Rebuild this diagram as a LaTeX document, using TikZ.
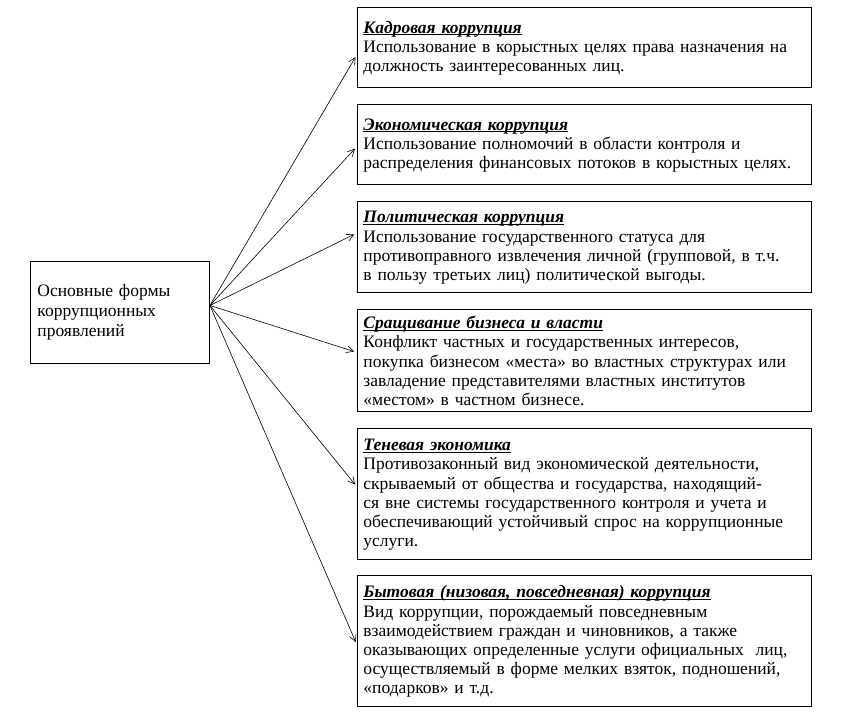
\documentclass[tikz,border=0pt]{standalone}
\usepackage{fontspec}
\setmainfont{Liberation Serif}
\usetikzlibrary{arrows.meta}
\tikzset{form/.style={draw,line width=0.9pt,anchor=north west,text width=442pt,inner xsep=6pt,inner ysep=0pt,align=left,font=\fontsize{17.5}{19.2}\selectfont}}
\newcommand\formtitle[1]{\underline{\smash{\textbf{\textit{#1}}}}\strut}
\newcommand\formbox[5]{\node(#1)[form,minimum height=#3pt] at (357,#2) {\formtitle{#4}\\#5};}

\begin{document}
\begin{tikzpicture}[x=1pt,y=-1pt]
    \useasboundingbox (0,0) rectangle (850,726);
    \node(main)[form,text width=165pt,inner xsep=7pt,minimum height=102pt,font=\fontsize{17.5}{20}\selectfont] at (30,261) {Основные формы\\коррупционных\\проявлений};
    \formbox{kadr}{7}{80}{Кадровая коррупция}{Использование в корыстных целях права назначения на\\должность заинтересованных лиц.}
    \formbox{ekon}{104}{80}{Экономическая коррупция}{Использование полномочий в области контроля и\\распределения финансовых потоков в корыстных целях.}
    \formbox{polit}{201}{91}{Политическая коррупция}{Использование государственного статуса для\\противоправного извлечения личной (групповой, в т.ч.\\в пользу третьих лиц) политической выгоды.}
    \formbox{srashch}{309}{102}{Сращивание бизнеса и власти}{Конфликт частных и государственных интересов,\\покупка бизнесом «места» во властных структурах или\\завладение представителями властных институтов\\«местом» в частном бизнесе.}
    \formbox{ten}{428}{131}{Теневая экономика}{Противозаконный вид экономической деятельности,\\скрываемый от общества и государства, находящий-\\ся вне системы государственного контроля и учета и\\обеспечивающий устойчивый спрос на коррупционные\\услуги.}
    \formbox{byt}{575}{131}{Бытовая (низовая, повседневная) коррупция}{Вид коррупции, порождаемый повседневным\\взаимодействием граждан и чиновников, а также\\оказывающих определенные услуги официальных \ лиц,\\осуществляемый в форме мелких взяток, подношений,\\«подарков» и т.д.}
    \foreach \b/\s in {kadr/-7,ekon/-2,polit/14,srashch/8,ten/7,byt/-4}
        \draw[-{Straight Barb[length=7pt,width=7pt]},line width=0.6pt,shorten >=3pt] ([yshift=7pt]main.east) -- ([yshift=\s pt]\b.west);
\end{tikzpicture}
\end{document}
